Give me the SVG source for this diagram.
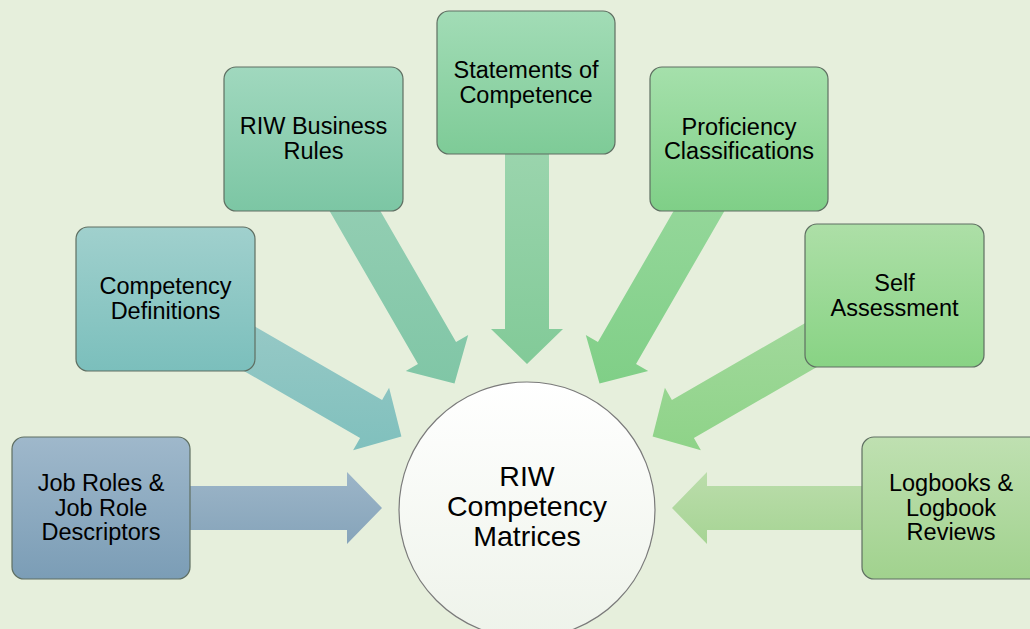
<svg xmlns="http://www.w3.org/2000/svg" width="1030" height="629" viewBox="0 0 1030 629">
<style>
.box{stroke:#5f6f62;stroke-width:1.2}
.t{font-family:"Liberation Sans",Arial,sans-serif;font-size:23.5px;fill:#000;text-anchor:middle}
.tc{font-family:"Liberation Sans",Arial,sans-serif;font-size:28.5px;fill:#000;text-anchor:middle}
</style>
<defs>
<linearGradient id="g1" x1="0" y1="0" x2="0" y2="1"><stop offset="0" stop-color="#9fb8cb"/><stop offset="1" stop-color="#7b9db6"/></linearGradient>
<linearGradient id="g2" x1="0" y1="0" x2="0" y2="1"><stop offset="0" stop-color="#a0d0cd"/><stop offset="1" stop-color="#7bbfbc"/></linearGradient>
<linearGradient id="g3" x1="0" y1="0" x2="0" y2="1"><stop offset="0" stop-color="#a0d8be"/><stop offset="1" stop-color="#7cc6a4"/></linearGradient>
<linearGradient id="g4" x1="0" y1="0" x2="0" y2="1"><stop offset="0" stop-color="#a2dcb6"/><stop offset="1" stop-color="#7ecb97"/></linearGradient>
<linearGradient id="g5" x1="0" y1="0" x2="0" y2="1"><stop offset="0" stop-color="#a5e0ab"/><stop offset="1" stop-color="#7fcf87"/></linearGradient>
<linearGradient id="g6" x1="0" y1="0" x2="0" y2="1"><stop offset="0" stop-color="#addfa7"/><stop offset="1" stop-color="#88d384"/></linearGradient>
<linearGradient id="g7" x1="0" y1="0" x2="0" y2="1"><stop offset="0" stop-color="#bfe0b1"/><stop offset="1" stop-color="#a1d28e"/></linearGradient>
<linearGradient id="a1" x1="0" y1="0" x2="0" y2="1"><stop offset="0" stop-color="#9cb5c8"/><stop offset="1" stop-color="#86a4ba"/></linearGradient>
<linearGradient id="a2" x1="0" y1="0" x2="0" y2="1"><stop offset="0" stop-color="#9ccbc8"/><stop offset="1" stop-color="#80c0bd"/></linearGradient>
<linearGradient id="a3" x1="0" y1="0" x2="0" y2="1"><stop offset="0" stop-color="#98d0b6"/><stop offset="1" stop-color="#80c6a6"/></linearGradient>
<linearGradient id="a4" x1="0" y1="0" x2="0" y2="1"><stop offset="0" stop-color="#9ed6b0"/><stop offset="1" stop-color="#82ca98"/></linearGradient>
<linearGradient id="a5" x1="0" y1="0" x2="0" y2="1"><stop offset="0" stop-color="#9ad99f"/><stop offset="1" stop-color="#80cf87"/></linearGradient>
<linearGradient id="a6" x1="0" y1="0" x2="0" y2="1"><stop offset="0" stop-color="#a6daa0"/><stop offset="1" stop-color="#8ed388"/></linearGradient>
<linearGradient id="a7" x1="0" y1="0" x2="0" y2="1"><stop offset="0" stop-color="#bbddab"/><stop offset="1" stop-color="#a6d494"/></linearGradient>
<linearGradient id="gc" x1="0" y1="0" x2="0" y2="1"><stop offset="0" stop-color="#ffffff"/><stop offset="1" stop-color="#eef3ea"/></linearGradient>
</defs>
<rect width="1030" height="629" fill="#e6efdc"/>
<g id="connectors">
<polygon fill="url(#a1)" points="382,508 347,472 347,486 180,486 180,530 347,530 347,544"/>
<polygon fill="url(#a2)" points="401.4,436.5 389.1,387.8 382.1,400 191.6,290 169.6,328 360.1,438 353.1,450.2"/>
<polygon fill="url(#a3)" points="454.5,383.4 468.2,335.1 456.05,342.1 346.05,151.6 307.95,173.6 417.95,364.1 405.8,371.1"/>
<polygon fill="url(#a4)" points="527,364 563,329 549,329 549,120 505,120 505,329 491,329"/>
<polygon fill="url(#a5)" points="599.5,383.4 648.2,371.1 636.05,364.1 746.05,173.6 707.95,151.6 597.95,342.1 585.8,335.1"/>
<polygon fill="url(#a6)" points="652.6,436.5 700.9,450.2 693.9,438.05 884.4,328.05 862.4,289.95 671.9,399.95 664.9,387.8"/>
<polygon fill="url(#a7)" points="672,508 707,472 707,486 880,486 880,530 707,530 707,544"/>
</g>
<g id="center">
<circle cx="527" cy="510" r="128" fill="url(#gc)" stroke="#7a7a7a" stroke-width="1.2"/>
<text class="tc" x="527" y="486">RIW</text>
<text class="tc" x="527" y="516">Competency</text>
<text class="tc" x="527" y="546">Matrices</text>
</g>
<g id="n1">
<rect class="box" x="12" y="437" width="178" height="142" rx="12" fill="url(#g1)"/>
<text class="t" x="101" y="491">Job Roles &amp;</text>
<text class="t" x="101" y="516">Job Role</text>
<text class="t" x="101" y="540">Descriptors</text>
</g>
<g id="n2">
<rect class="box" x="76" y="227" width="179" height="144" rx="12" fill="url(#g2)"/>
<text class="t" x="165.5" y="294">Competency</text>
<text class="t" x="165.5" y="319">Definitions</text>
</g>
<g id="n3">
<rect class="box" x="224" y="67" width="179" height="144" rx="12" fill="url(#g3)"/>
<text class="t" x="313.5" y="134">RIW Business</text>
<text class="t" x="313.5" y="159">Rules</text>
</g>
<g id="n4">
<rect class="box" x="437" y="11" width="178" height="143" rx="12" fill="url(#g4)"/>
<text class="t" x="526" y="78">Statements of</text>
<text class="t" x="526" y="103">Competence</text>
</g>
<g id="n5">
<rect class="box" x="650" y="67" width="178" height="144" rx="12" fill="url(#g5)"/>
<text class="t" x="739" y="135">Proficiency</text>
<text class="t" x="739" y="159">Classifications</text>
</g>
<g id="n6">
<rect class="box" x="805" y="224" width="179" height="143" rx="12" fill="url(#g6)"/>
<text class="t" x="894.5" y="291">Self</text>
<text class="t" x="894.5" y="316">Assessment</text>
</g>
<g id="n7">
<rect class="box" x="862" y="437" width="180" height="142" rx="12" fill="url(#g7)"/>
<text class="t" x="951" y="491">Logbooks &amp;</text>
<text class="t" x="951" y="516">Logbook</text>
<text class="t" x="951" y="540">Reviews</text>
</g>
</svg>
